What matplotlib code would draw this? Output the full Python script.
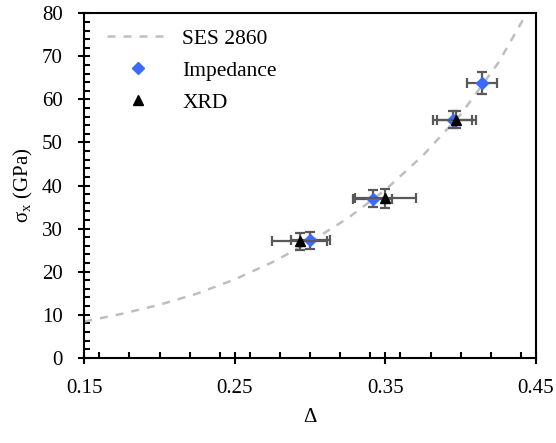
import matplotlib
matplotlib.use("Agg")
import matplotlib.pyplot as plt
from matplotlib.ticker import MultipleLocator

plt.rcParams['font.family'] = ['Liberation Serif', 'DejaVu Serif']
plt.rcParams['mathtext.fontset'] = 'custom'
plt.rcParams['mathtext.rm'] = 'Liberation Serif'
plt.rcParams['font.size'] = 15

# SES 2860 model curve
ses_x = [0.15, 0.175, 0.20, 0.225, 0.25, 0.275, 0.30, 0.325, 0.35, 0.375, 0.40, 0.425, 0.443]
ses_y = [8.4, 10.2, 12.3, 14.9, 18.2, 22.2, 26.9, 32.4, 39.0, 47.0, 56.5, 68.5, 79.5]

# Impedance
imp_x = [0.300, 0.3415, 0.3946, 0.414]
imp_y = [27.3, 36.9, 55.3, 63.8]
imp_xerr = [0.013, 0.013, 0.013, 0.010]
imp_yerr = [2.0, 2.0, 2.0, 2.5]

# XRD
xrd_x = [0.293, 0.350, 0.397]
xrd_y = [27.0, 37.0, 55.3]
xrd_xerr = [0.018, 0.020, 0.013]
xrd_yerr = [2.0, 2.3, 2.0]

fig = plt.figure(figsize=(5.56, 4.43), dpi=100)
ax = fig.add_axes([0.1516, 0.1925, 0.8124, 0.7775])

ax.plot(ses_x, ses_y, ls=(0, (3.2, 3.2)), color='#bfbfbf', lw=1.8, label='SES 2860')

ax.errorbar(imp_x, imp_y, xerr=imp_xerr, yerr=imp_yerr, fmt='none',
            ecolor='#595959', elinewidth=1.6, capsize=3.5, capthick=1.6, zorder=3)
ax.plot(imp_x, imp_y, 'D', color='#3a6bff', ms=6.5, mec='#3a6bff',
        label='Impedance', zorder=4)

ax.errorbar(xrd_x, xrd_y, xerr=xrd_xerr, yerr=xrd_yerr, fmt='none',
            ecolor='#595959', elinewidth=1.6, capsize=3.5, capthick=1.6, zorder=5)
ax.plot(xrd_x, xrd_y, '^', color='black', ms=7, label='XRD', zorder=6)

ax.set_xlim(0.15, 0.45)
ax.set_ylim(0, 80)
ax.set_xticks([0.15, 0.25, 0.35, 0.45])
ax.set_xticklabels(['0.15', '0.25', '0.35', '0.45'])
ax.xaxis.set_minor_locator(MultipleLocator(0.02))
ax.yaxis.set_major_locator(MultipleLocator(10))
ax.yaxis.set_minor_locator(MultipleLocator(2))
ax.tick_params(which='major', direction='inout', length=9, width=1.5,
               top=False, right=False, colors='black', labelsize=15)
ax.tick_params(which='minor', direction='in', length=4, width=1.5,
               top=False, right=False)
ax.tick_params(axis='x', which='major', pad=11)
ax.tick_params(axis='y', which='major', pad=11)

for s in ax.spines.values():
    s.set_linewidth(1.5)
    s.set_color('black')

ax.set_xlabel('Δ', fontsize=15, labelpad=7)
ax.set_ylabel(r'$\mathregular{\sigma_x}$ (GPa)', fontsize=15, labelpad=5)

ax.legend(loc='upper left', frameon=False, fontsize=15.5, handlelength=2.9,
          handletextpad=0.6, labelspacing=0.55, borderaxespad=0,
          bbox_to_anchor=(0.031, 0.98))

fig.savefig('out.png', dpi=100)
